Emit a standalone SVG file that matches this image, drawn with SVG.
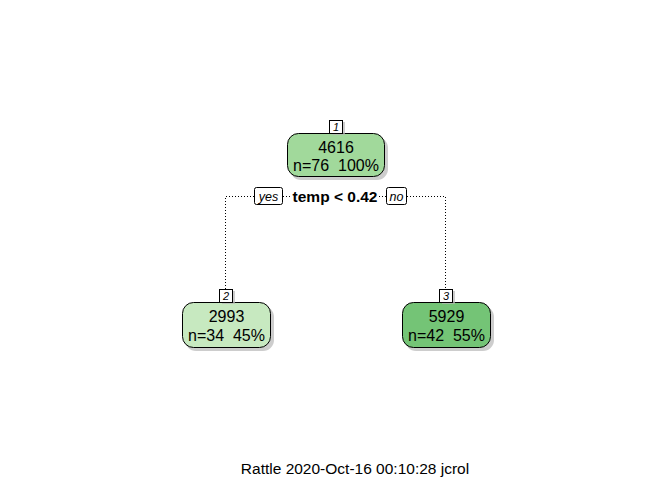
<svg xmlns="http://www.w3.org/2000/svg" width="672" height="480" viewBox="0 0 672 480">
<style>
text{white-space:pre}
.sh{fill:#b8b8b8;opacity:0.7}
.node{stroke:#000;stroke-width:1}
.t{font-family:"Liberation Sans",Arial,sans-serif;font-size:16px;text-anchor:middle;fill:#000}
.lb{fill:#fff;stroke:#000;stroke-width:1}
.lt{font-family:"Liberation Sans",Arial,sans-serif;font-size:11px;font-style:italic;text-anchor:middle;fill:#000}
.yn{font-family:"Liberation Sans",Arial,sans-serif;font-size:12.5px;font-style:italic;text-anchor:middle;fill:#000}
.sp{font-family:"Liberation Sans",Arial,sans-serif;font-size:15.5px;font-weight:bold;text-anchor:middle;fill:#000}
.ed{fill:none;stroke:#000;stroke-width:1;stroke-dasharray:1 2}
</style>
<rect width="672" height="480" fill="#fff"/>
<g id="connectors">
<path class="ed" d="M254,196.5 H225.5 V290"/>
<path class="ed" d="M283,196.5 H291"/>
<path class="ed" d="M379,196.5 H386"/>
<path class="ed" d="M407,196.5 H445.5 V290"/>
</g>
<g id="node1">
<rect class="sh" x="290" y="137" width="98" height="43" rx="11"/>
<rect class="node" x="287.5" y="133.5" width="97" height="43" rx="11" fill="#a1d99b"/>
<rect class="sh" x="332" y="122" width="13" height="13"/>
<rect class="lb" x="329.5" y="120.5" width="13" height="13"/>
<text class="lt" x="336" y="131">1</text>
<text class="t" x="336" y="153">4616</text>
<text class="t" x="336" y="171" xml:space="preserve">n=76  100%</text>
</g>
<g id="split">
<rect class="lb" x="254.5" y="187.5" width="28" height="17" rx="2"/>
<text class="yn" x="268.5" y="201">yes</text>
<text class="sp" x="335" y="202">temp &lt; 0.42</text>
<rect class="lb" x="386.5" y="187.5" width="20" height="17" rx="2"/>
<text class="yn" x="396.5" y="201">no</text>
</g>
<g id="node2">
<rect class="sh" x="185" y="306" width="89" height="45" rx="11"/>
<rect class="node" x="182.5" y="302.5" width="88" height="45" rx="11" fill="#c7e9c0"/>
<rect class="sh" x="222" y="291" width="13" height="13"/>
<rect class="lb" x="219.5" y="289.5" width="13" height="13"/>
<text class="lt" x="226" y="300">2</text>
<text class="t" x="226.5" y="322">2993</text>
<text class="t" x="226.5" y="341" xml:space="preserve">n=34  45%</text>
</g>
<g id="node3">
<rect class="sh" x="405" y="306" width="89" height="45" rx="11"/>
<rect class="node" x="402.5" y="302.5" width="88" height="45" rx="11" fill="#74c476"/>
<rect class="sh" x="442" y="291" width="13" height="13"/>
<rect class="lb" x="439.5" y="289.5" width="13" height="13"/>
<text class="lt" x="446" y="300">3</text>
<text class="t" x="446.5" y="322">5929</text>
<text class="t" x="446.5" y="341" xml:space="preserve">n=42  55%</text>
</g>
<text x="355" y="474" style="font-family:'Liberation Sans',Arial,sans-serif;font-size:15.5px;text-anchor:middle;fill:#000">Rattle 2020-Oct-16 00:10:28 jcrol</text>
</svg>
